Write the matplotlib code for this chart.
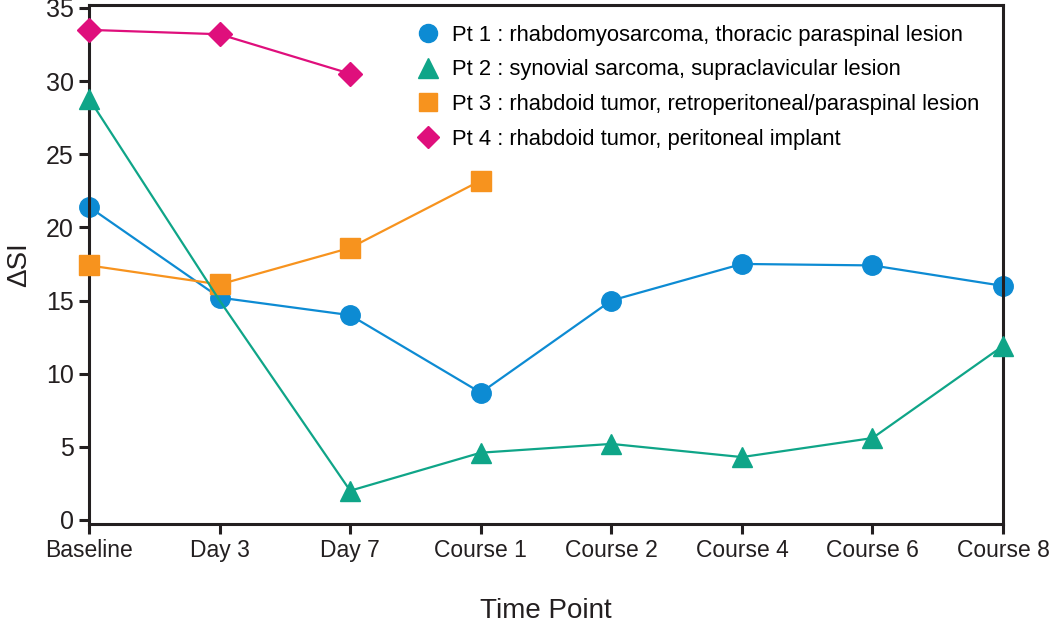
import matplotlib.pyplot as plt
from matplotlib.lines import Line2D
import numpy as np

plt.rcParams['font.family'] = ['Liberation Sans', 'DejaVu Sans']

time_points = ['Baseline', 'Day 3', 'Day 7', 'Course 1', 'Course 2', 'Course 4', 'Course 6', 'Course 8']

pt1 = [21.4, 15.2, 14.0, 8.7, 15.0, 17.5, 17.4, 16.0]
pt2 = [28.8, 15.0, 2.0, 4.6, 5.2, 4.3, 5.6, 11.9]
pt3 = [17.4, 16.1, 18.6, 23.2]
pt4 = [33.5, 33.2, 30.5]

labels = ['Pt 1 : rhabdomyosarcoma, thoracic paraspinal lesion',
          'Pt 2 : synovial sarcoma, supraclavicular lesion',
          'Pt 3 : rhabdoid tumor, retroperitoneal/paraspinal lesion',
          'Pt 4 : rhabdoid tumor, peritoneal implant']

blue = '#0d8bd3'
green = '#0fa588'
orange = '#f7931e'
magenta = '#df0f7c'
ink = '#231f20'

fig = plt.figure(figsize=(10.5, 6.23), dpi=100)
ax = fig.add_axes([0.0848, 0.159, 0.8705, 0.833])

x = np.arange(len(time_points))
ax.plot(x, pt1, color=blue, lw=1.6, marker='o', ms=14, zorder=2, clip_on=False)
ax.plot(x[:len(pt3)], pt3, color=orange, lw=1.6, marker='s', ms=14, zorder=3, clip_on=False)
# day 3 point of pt 2 has no visible marker
ax.plot(x, pt2, color=green, lw=1.6, marker='^', ms=15, markevery=[0, 2, 3, 4, 5, 6, 7],
        zorder=4, clip_on=False)
ax.plot(x[:len(pt4)], pt4, color=magenta, lw=1.6, marker='D', ms=12.5,
        zorder=5, clip_on=False)

ax.set_xlim(0, 7)
ax.set_ylim(-0.27, 35.2)
ax.set_yticks(np.arange(0, 36, 5))
ax.set_xticks(x)
ax.set_xticklabels(time_points)
ax.tick_params(axis='y', labelsize=18)
ax.tick_params(axis='x', labelsize=16.5)
ax.tick_params(width=2.2, length=7, color=ink, labelcolor=ink, pad=4)
for s in ax.spines.values():
    s.set_linewidth(2.2)
    s.set_color(ink)

ax.set_xlabel('Time Point', fontsize=20, labelpad=26, color=ink)
ax.set_ylabel('ΔSI', fontsize=20, labelpad=10, color=ink)

handles = [Line2D([], [], ls='none', marker='o', ms=13, color=blue),
           Line2D([], [], ls='none', marker='^', ms=14, color=green),
           Line2D([], [], ls='none', marker='s', ms=12.5, color=orange),
           Line2D([], [], ls='none', marker='D', ms=11, color=magenta)]
ax.legend(handles, labels, loc='upper right', frameon=False, fontsize=15.8, handlelength=1.0,
          handletextpad=0.6, labelspacing=0.62, borderaxespad=0.5,
          bbox_to_anchor=(0.996, 1.0))

fig.savefig('out.png', dpi=100)
